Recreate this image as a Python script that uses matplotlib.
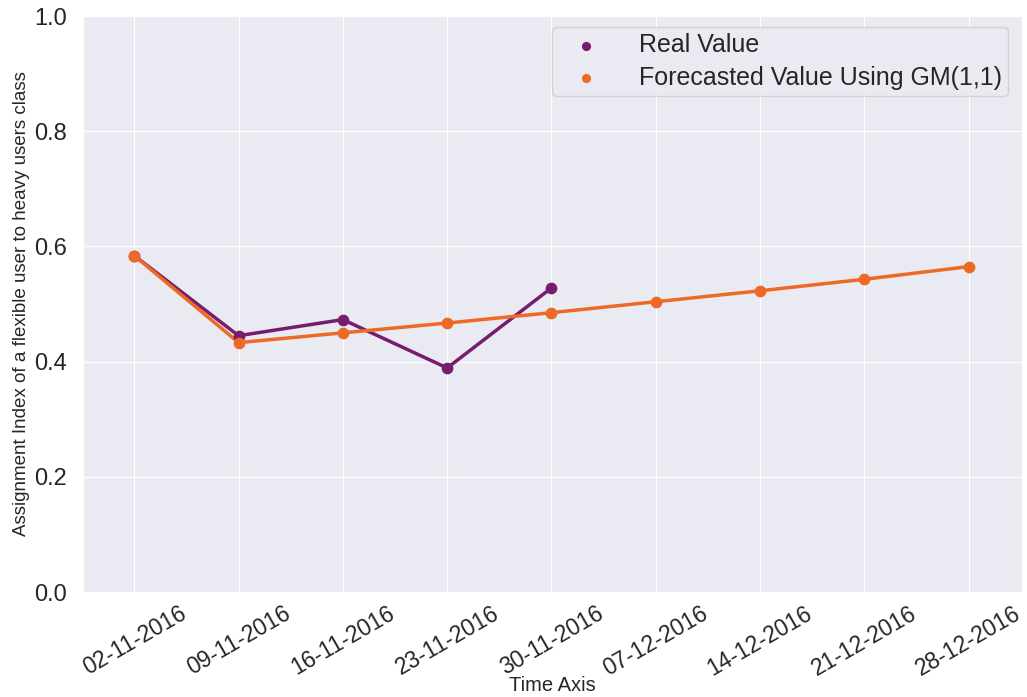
import matplotlib
matplotlib.use("Agg")
import matplotlib.pyplot as plt
import seaborn as sns

sns.set_style("darkgrid")
plt.rcParams['font.family'] = ['Liberation Sans', 'DejaVu Sans']

dates = ["02-11-2016", "09-11-2016", "16-11-2016", "23-11-2016", "30-11-2016",
         "07-12-2016", "14-12-2016", "21-12-2016", "28-12-2016"]
real_values = [0.584, 0.445, 0.473, 0.389, 0.528]
forecast_values = [0.584, 0.433, 0.450, 0.467, 0.485, 0.504, 0.523, 0.543, 0.565]

purple = "#781c6d"
orange = "#ed6925"

fig = plt.figure(figsize=(10.27, 6.97), dpi=100)
ax = fig.add_axes([0.081, 0.1506, 0.914, 0.8264])

xr = list(range(len(real_values)))
xf = list(range(len(forecast_values)))

ax.plot(xr, real_values, color=purple, linewidth=2.5, zorder=2)
ax.plot(xf, forecast_values, color=orange, linewidth=2.5, zorder=2)
ax.scatter(xr, real_values, color=purple, s=55, zorder=3, label="Real Value")
ax.scatter(xf, forecast_values, color=orange, s=55, zorder=3,
           label="Forecasted Value Using GM(1,1)")

ax.set_xlim(-0.49, 8.51)
ax.set_ylim(0, 1.0)
ax.set_xticks(xf)
ax.set_xticklabels(dates, rotation=30, fontsize=16.5)
ax.set_yticks([0.0, 0.2, 0.4, 0.6, 0.8, 1.0])
ax.tick_params(axis='y', labelsize=17, pad=8)
ax.set_xlabel("Time Axis", fontsize=14.5, labelpad=-3)
ax.set_ylabel("Assignment Index of a flexible user to heavy users class", fontsize=13.5,
              labelpad=3)

leg = ax.legend(loc="upper right", fontsize=18, markerscale=0.75,
                borderaxespad=0, bbox_to_anchor=(0.985, 0.981), labelspacing=0.35,
                borderpad=0.25, handletextpad=1.0, handlelength=2.2)
leg.get_frame().set_edgecolor("#cccccc")

fig.savefig("out.png", dpi=100)
